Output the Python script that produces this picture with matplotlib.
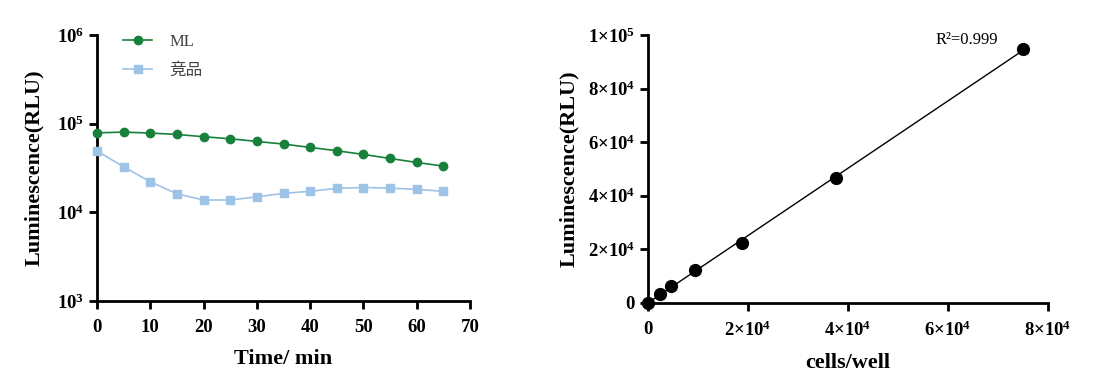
import numpy as np
import matplotlib
matplotlib.use("Agg")
import matplotlib.pyplot as plt
from matplotlib.ticker import FixedLocator, FixedFormatter, NullLocator

plt.rcParams['font.family'] = ['Liberation Serif', 'Noto Sans CJK SC']
plt.rcParams['mathtext.fontset'] = 'custom'
plt.rcParams['mathtext.rm'] = 'Liberation Serif:bold'
plt.rcParams['mathtext.bf'] = 'Liberation Serif:bold'
plt.rcParams['mathtext.it'] = 'Liberation Serif:bold'

# left panel: signal stability over time
time_min = [0, 5, 10, 15, 20, 25, 30, 35, 40, 45, 50, 55, 60, 65]
ml = [79000, 80500, 78500, 75800, 71400, 67700, 63200, 59000, 54100, 49600, 45100, 40600, 36600, 33300]
competitor = [49200, 32700, 22200, 16200, 13800, 13800, 15000, 16400, 17300, 18700, 19100, 18800, 18200, 17300]
x_ticks_left = [0, 10, 20, 30, 40, 50, 60, 70]
y_ticks_left = [1e3, 1e4, 1e5, 1e6]
y_labels_left = [r'$\mathbf{10^{3}}$', r'$\mathbf{10^{4}}$', r'$\mathbf{10^{5}}$', r'$\mathbf{10^{6}}$']

# right panel: linearity vs cell number
cells = [0, 2344, 4688, 9375, 18750, 37500, 75000]
rlu = [0, 3240, 6350, 12200, 22200, 46500, 94800]
x_ticks_right = [0, 20000, 40000, 60000, 80000]
x_labels_right = ['0', r'$\mathbf{2{\times}10^{4}}$', r'$\mathbf{4{\times}10^{4}}$',
                  r'$\mathbf{6{\times}10^{4}}$', r'$\mathbf{8{\times}10^{4}}$']
y_ticks_right = [0, 20000, 40000, 60000, 80000, 100000]
y_labels_right = ['0', r'$\mathbf{2{\times}10^{4}}$', r'$\mathbf{4{\times}10^{4}}$',
                  r'$\mathbf{6{\times}10^{4}}$', r'$\mathbf{8{\times}10^{4}}$', r'$\mathbf{1{\times}10^{5}}$']

green = '#17803a'
blue = '#9dc3e6'
lw = 2.0

fig = plt.figure(figsize=(11.06, 3.90), dpi=100)
ax1 = fig.add_axes([0.0877, 0.228, 0.3373, 0.682])
ax2 = fig.add_axes([0.5859, 0.2238, 0.3617, 0.6864])


def style_axes(ax):
    for s in ['top', 'right']:
        ax.spines[s].set_visible(False)
    for s in ['left', 'bottom']:
        ax.spines[s].set_linewidth(lw)
    ax.tick_params(axis='both', which='major', width=lw, length=6, labelsize=13.5, direction='out')
    ax.tick_params(axis='x', pad=7)
    for lab in ax.get_xticklabels() + ax.get_yticklabels():
        lab.set_fontweight('bold')


ax1.plot(time_min, ml, '-o', color=green, markersize=6, linewidth=1.2, label='ML', clip_on=False, zorder=3)
ax1.plot(time_min, competitor, '-s', color=blue, markersize=6, linewidth=1.2, label='竞品', clip_on=False, zorder=3)
ax1.set_yscale('log')
ax1.set_xlim(0, 70)
ax1.set_ylim(1e3, 1e6)
ax1.xaxis.set_major_locator(FixedLocator(x_ticks_left))
ax1.yaxis.set_major_locator(FixedLocator(y_ticks_left))
ax1.yaxis.set_major_formatter(FixedFormatter(y_labels_left))
ax1.yaxis.set_minor_locator(NullLocator())
style_axes(ax1)
ax1.set_xlabel('Time/ min', fontsize=16, fontweight='bold', labelpad=9)
ax1.set_ylabel('Luminescence(RLU)', fontsize=16, fontweight='bold', labelpad=9)
leg = ax1.legend(loc='upper left', frameon=False, fontsize=12, handlelength=1.75,
                 bbox_to_anchor=(0.03, 1.06), labelspacing=0.75, handletextpad=1.0)
for t in leg.get_texts():
    t.set_color('#444444')
    t.set_family(['Liberation Serif', 'Noto Sans CJK SC'])

# linear fit through the standard curve
slope, intercept = np.polyfit(cells, rlu, 1)
fit_x = np.array([0, max(cells)])
ax2.plot(fit_x, slope * fit_x + intercept, color='black', linewidth=1.0)
ax2.plot(cells, rlu, 'o', color='black', markersize=8.5, clip_on=False, zorder=3)
ax2.set_xlim(0, 80000)
ax2.set_ylim(0, 100000)
ax2.xaxis.set_major_locator(FixedLocator(x_ticks_right))
ax2.xaxis.set_major_formatter(FixedFormatter(x_labels_right))
ax2.yaxis.set_major_locator(FixedLocator(y_ticks_right))
ax2.yaxis.set_major_formatter(FixedFormatter(y_labels_right))
style_axes(ax2)
ax2.set_xlabel('cells/well', fontsize=16, fontweight='bold', labelpad=9)
ax2.set_ylabel('Luminescence(RLU)', fontsize=16, fontweight='bold', labelpad=6)
ax2.text(0.7175, 0.98, 'R²=0.999', transform=ax2.transAxes, fontsize=12,
         fontweight='normal', ha='left', va='center')

fig.savefig('out.png', dpi=100)
